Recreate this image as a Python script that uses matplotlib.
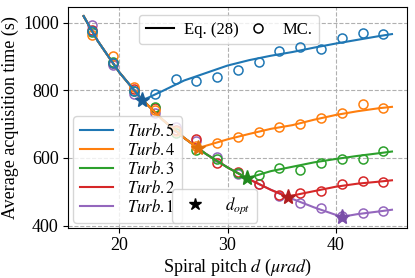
import numpy as np
import matplotlib
matplotlib.use("Agg")
import matplotlib.pyplot as plt
from matplotlib.lines import Line2D

plt.rcParams['font.family'] = ['Liberation Serif', 'DejaVu Serif']
plt.rcParams['mathtext.fontset'] = 'stix'

# Monte Carlo tocke (spiral pitch, urad)
mc_x = [17.52, 19.44, 21.36, 23.28, 25.2, 27.12, 29.04, 30.96, 32.88, 34.8,
        36.72, 38.64, 40.56, 42.48, 44.4]
mc_t5 = [975, 880, 797, 788, 833, 828, 839, 860, 883, 917, 927, 921, 954, 968, 965]
mc_t4 = [962, 902, 810, 742, 680, 635, 645, 661, 677, 691, 700, 719, 733, 758, 749]
mc_t3 = [972, 884, 797, 751, 675, 624, 596, 555, 550, 570, 565, 584, 596, 597, 621]
mc_t2 = [978, 880, 803, 747, 682, 656, 585, 558, 524, 490, 496, 503, 522, 533, 530]
mc_t1 = [993, 874, 790, 733, 691, 649, 604, 553, 524, 488, 467, 452, 428, 437, 442]

# Eq. (28) krive
eq_x = [16.7, 18, 20, 22, 24, 26, 28, 30, 32, 34, 36, 38, 40, 42, 44, 45.2]
eq_t5 = [1019, 946, 853, 776, 798, 829, 851, 873, 889, 902, 913, 926, 938, 949, 960, 966]
eq_t4 = [1019, 946, 853, 776, 713, 659, 636, 655, 671, 686, 697, 713, 727, 738, 747, 751]
eq_t3 = [1019, 946, 853, 776, 713, 659, 612, 572, 542, 561, 574, 587, 597, 606, 614, 619]
eq_t2 = [1019, 946, 853, 776, 713, 659, 612, 572, 537, 506, 489, 502, 515, 524, 530, 534]
eq_t1 = [1019, 946, 853, 776, 713, 659, 612, 572, 537, 506, 479, 454, 432, 434, 442, 447]

# optimalni pitch d_opt
opt_x = [22.12, 27.31, 31.83, 35.55, 40.55]
opt_t = [770, 628, 540, 485, 426]

labels = [r'$Turb.1$', r'$Turb.2$', r'$Turb.3$', r'$Turb.4$', r'$Turb.5$']
boje = ['#9467bd', '#d62728', '#2ca02c', '#ff7f0e', '#1f77b4']
boje_zvezda = ['#7a4fa8', '#b01d1f', '#21891f', '#e0700a', '#1a5f99']

mc_sve = [mc_t1, mc_t2, mc_t3, mc_t4, mc_t5]
eq_sve = [eq_t1, eq_t2, eq_t3, eq_t4, eq_t5]
zv_idx = [4, 3, 2, 1, 0]

fig, ax = plt.subplots(figsize=(4.15, 2.78), dpi=100)
fig.subplots_adjust(left=0.165, right=0.981, top=0.976, bottom=0.181)

linije = []
for k in range(5):
    i = zv_idx[k]
    # ubaci tacku d_opt u krivu da prelom bude na pravom mestu
    xs = np.array(eq_x + [opt_x[i]])
    ys = np.array(eq_sve[k] + [opt_t[i]])
    red = np.argsort(xs)
    ln, = ax.plot(xs[red], ys[red], color=boje[k], lw=1.5, label=labels[k], zorder=2 + k)
    linije.append(ln)
    ax.plot(mc_x, mc_sve[k], 'o', mfc='none', mec=boje[k], ms=6.5, mew=1.1, zorder=2 + k)
    ax.plot(opt_x[i], opt_t[i], '*', color=boje_zvezda[k], ms=11, zorder=10)

ax.set_xlim(15.3, 46.6)
ax.set_ylim(394, 1047)
ax.set_xticks([20, 30, 40])
ax.set_yticks([400, 600, 800, 1000])
ax.grid(True, ls='--', color='#b0b0b0', lw=0.8)
ax.tick_params(labelsize=13)
ax.set_xlabel(r'Spiral pitch $d$ ($\mu rad$)', fontsize=13, labelpad=2)
ax.set_ylabel('Average acquisition time (s)', fontsize=13, labelpad=3)

leg1 = ax.legend(handles=linije[::-1], loc='lower left', fontsize=12,
                 labelspacing=0.12, handlelength=2.0, borderaxespad=0.3)
ax.add_artist(leg1)

h_eq = Line2D([], [], color='k', lw=1.5)
h_mc = Line2D([], [], ls='none', marker='o', mfc='none', mec='k', ms=6.5, mew=1.1)
leg2 = ax.legend([h_eq, h_mc], ['Eq. (28)', 'MC.'], loc='upper center',
                 bbox_to_anchor=(0.474, 1.0), ncol=2, fontsize=12,
                 borderaxespad=0.5, columnspacing=0.3, handlelength=1.7,
                 handletextpad=0.6)
ax.add_artist(leg2)

h_st = Line2D([], [], ls='none', marker='*', color='k', ms=9)
ax.legend([h_st], [r'$d_{opt}$'], loc='lower center', bbox_to_anchor=(0.432, 0.0),
          fontsize=12, borderaxespad=0.3)

fig.savefig('out.png', dpi=100)
